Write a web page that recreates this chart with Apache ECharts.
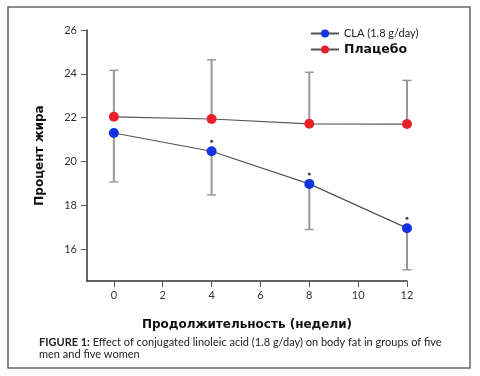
<!DOCTYPE html>
<html>
<head>
<meta charset="utf-8">
<script src="https://cdn.jsdelivr.net/npm/echarts@6/dist/echarts.min.js"></script>
<style>
  html, body { margin: 0; padding: 0; background: #fff; }
  #chart { width: 480px; height: 376px; }
</style>
</head>
<body>
<div id="chart"></div>
<script>
// данные графика
var weeks = [0, 4, 8, 12];
var claMean = [21.3, 20.47, 18.98, 16.96];
var claLower = [19.07, 18.48, 16.9, 15.06];
var placeboMean = [22.04, 21.94, 21.72, 21.71];
var placeboUpper = [24.16, 24.64, 24.07, 23.7];
var sigWeeks = [4, 8, 12];
var xTicks = [0, 2, 4, 6, 8, 10, 12];
var yTicks = [16, 18, 20, 22, 24, 26];

var chart = echarts.init(document.getElementById('chart'));

function pairs(xs, ys) {
	var out = [];
	for (var i = 0; i < xs.length; i++) out.push([xs[i], ys[i]]);
	return out;
}
function errData(xs, ys, es) {
	var out = [];
	for (var i = 0; i < xs.length; i++) out.push([xs[i], ys[i], es[i]]);
	return out;
}
//ошибки: вертикальная линия + засечка
function errItem(params, api) {
	var p0 = api.coord([api.value(0), api.value(1)]);
	var p1 = api.coord([api.value(0), api.value(2)]);
	var hw = 4.5;
	return {
		type: 'group',
		children: [
			{ type: 'line', shape: { x1: p0[0], y1: p0[1], x2: p1[0], y2: p1[1] }, style: { stroke: '#999', lineWidth: 2 } },
			{ type: 'line', shape: { x1: p1[0] - hw, y1: p1[1], x2: p1[0] + hw, y2: p1[1] }, style: { stroke: '#999', lineWidth: 1.5 } }
		]
	};
}
var sigData = [];
for (var i = 0; i < sigWeeks.length; i++) {
	sigData.push([sigWeeks[i], claMean[weeks.indexOf(sigWeeks[i])]]);
}

var tickFont = { fontFamily: 'Lato', fontSize: 11, color: '#333' };
var boldName = { fontFamily: 'DejaVu Sans', fontWeight: 'bold', fontSize: 12, color: '#111' };

var option = {
	animation: false,
	backgroundColor: '#fff',
	grid: { left: 87, top: 30, width: 320, height: 251 },
	legend: {
		orient: 'vertical',
		left: 305,
		top: 23,
		itemWidth: 28,
		itemHeight: 10,
		itemGap: 4,
		data: [
			{ name: 'CLA (1.8 g/day)', textStyle: { fontFamily: 'Lato', fontSize: 11, color: '#222' } },
			{ name: 'Плацебо', textStyle: { fontFamily: 'DejaVu Sans', fontWeight: 'bold', fontSize: 12.5, color: '#111' } }
		]
	},
	xAxis: {
		type: 'value',
		min: -1.1,
		max: 12,
		name: 'Продолжительность (недели)',
		nameLocation: 'middle',
		nameGap: 38,
		nameTextStyle: boldName,
		splitLine: { show: false },
		axisLine: { onZero: false, lineStyle: { color: '#333', width: 1.5 } },
		axisTick: { customValues: xTicks, length: 6, lineStyle: { color: '#555' } },
		axisLabel: Object.assign({ customValues: xTicks, margin: 9 }, tickFont)
	},
	yAxis: {
		type: 'value',
		min: 14.55,
		max: 26,
		name: 'Процент жира',
		nameLocation: 'middle',
		nameGap: 41,
		nameTextStyle: boldName,
		splitLine: { show: false },
		axisLine: { show: true, onZero: false, lineStyle: { color: '#333', width: 1.5 } },
		axisTick: { show: true, customValues: yTicks, length: 6, lineStyle: { color: '#555' } },
		axisLabel: Object.assign({ customValues: yTicks, margin: 10 }, tickFont)
	},
	series: [
		{
			type: 'custom',
			name: 'errPlacebo',
			renderItem: errItem,
			data: errData(weeks, placeboMean, placeboUpper),
			encode: { x: 0, y: [1, 2] },
			z: 1
		},
		{
			type: 'custom',
			name: 'errCla',
			renderItem: errItem,
			data: errData(weeks, claMean, claLower),
			encode: { x: 0, y: [1, 2] },
			z: 1
		},
		{
			type: 'line',
			name: 'CLA (1.8 g/day)',
			data: pairs(weeks, claMean),
			symbol: 'circle',
			symbolSize: 10,
			lineStyle: { color: '#555', width: 1.2 },
			itemStyle: { color: '#1133e0' },
			z: 3
		},
		{
			type: 'line',
			name: 'Плацебо',
			data: pairs(weeks, placeboMean),
			symbol: 'circle',
			symbolSize: 10,
			lineStyle: { color: '#555', width: 1.2 },
			itemStyle: { color: '#e8202a' },
			z: 3
		},
		{
			type: 'scatter',
			name: 'sig',
			data: sigData,
			symbol: 'circle',
			symbolSize: 3,
			symbolOffset: [0, -10],
			itemStyle: { color: '#111' },
			z: 4
		}
	],
	graphic: [
		{
			type: 'rect',
			shape: { x: 8, y: 7, width: 462, height: 361 },
			style: { fill: 'none', stroke: '#666', lineWidth: 1.5 },
			z: 0
		},
		{
			type: 'text',
			left: 39,
			top: 336,
			style: {
				text: '{b|FIGURE 1:} Effect of conjugated linoleic acid (1.8 g/day) on body fat in groups of five\nmen and five women',
				fontFamily: 'Lato',
				fontSize: 11,
				lineHeight: 12,
				fill: '#222',
				rich: {
					b: { fontFamily: 'Lato', fontWeight: 'bold', fontSize: 11, fill: '#222' }
				}
			}
		}
	]
};
chart.setOption(option);
</script>
</body>
</html>
